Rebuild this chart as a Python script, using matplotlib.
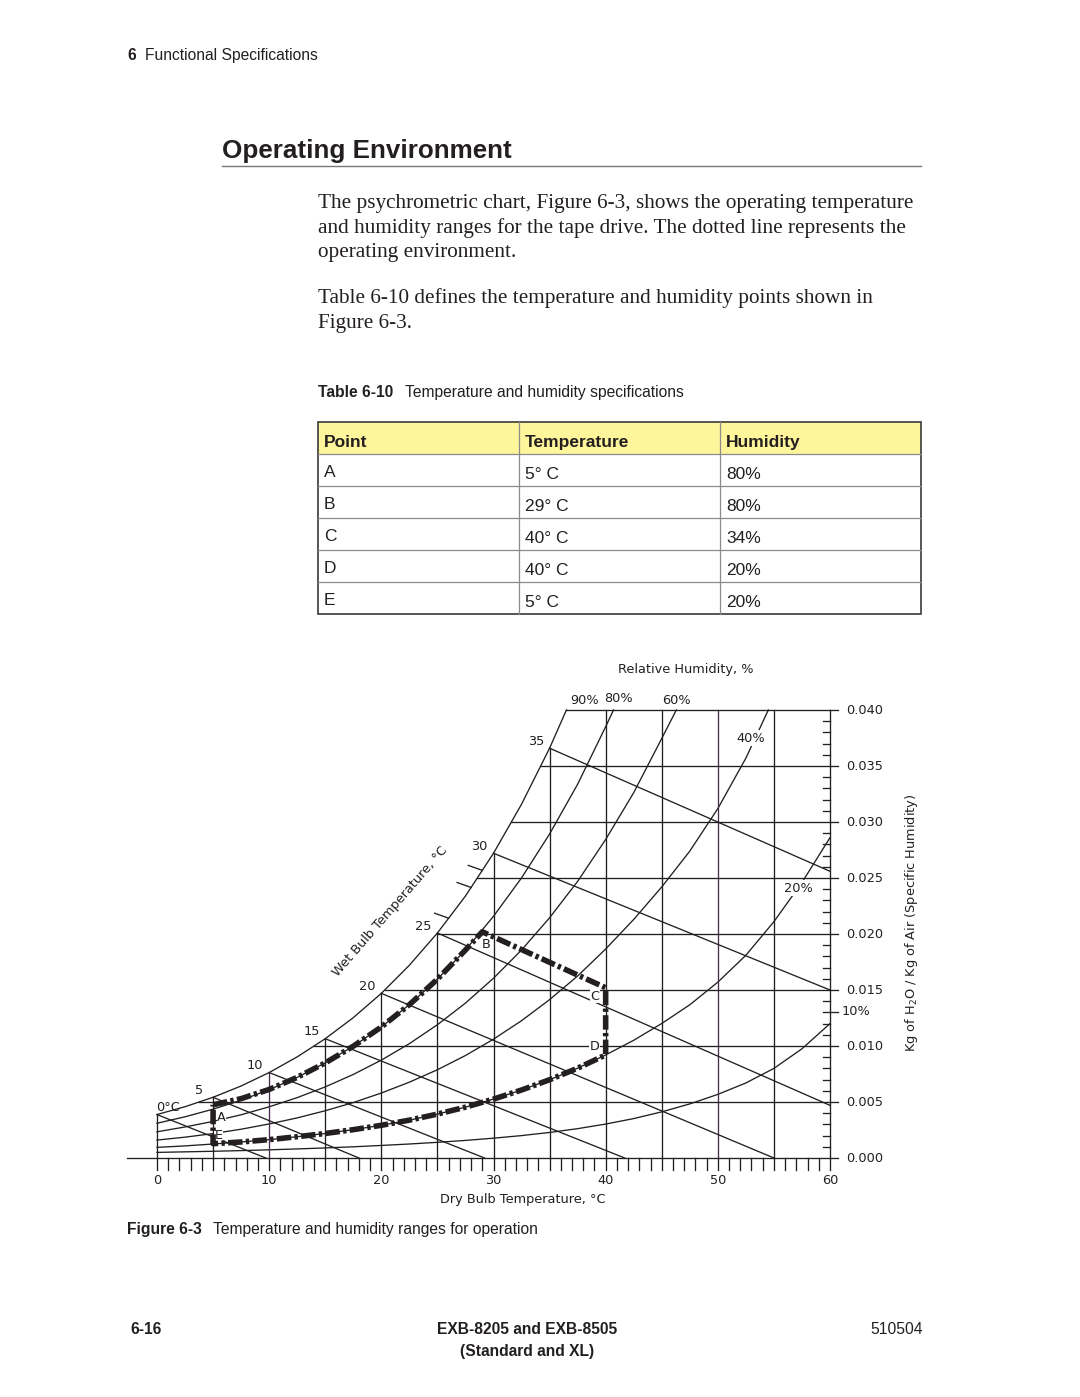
import numpy as np
import matplotlib
matplotlib.use("Agg")
import matplotlib.pyplot as plt
from matplotlib.patches import Rectangle
from matplotlib import font_manager

# Table 6-10 ----
table_header = ["Point", "Temperature", "Humidity"]
table_points = ["A", "B", "C", "D", "E"]
table_temps = ["5° C", "29° C", "40° C", "40° C", "5° C"]
table_humidity = ["80%", "80%", "34%", "20%", "20%"]

# Psychrometric chart ----
# dry bulb (deg C) / specific humidity (kg/kg)
dry_bulb_ticks = [0, 10, 20, 30, 40, 50, 60]
spec_hum_ticks = [0.000, 0.005, 0.010, 0.015, 0.020, 0.025, 0.030, 0.035, 0.040]
grid_T = [0, 5, 10, 15, 20, 25, 30, 35, 40, 45, 50, 55]

sat_T = [0, 2.5, 5, 7.5, 10, 12.5, 15, 17.5, 20, 22.5, 25, 27.5, 30, 32.5, 35, 36.5]
sat_w = [0.00388, 0.00458, 0.00542, 0.00643, 0.00763, 0.00903, 0.01065, 0.01253,
         0.01470, 0.01721, 0.02009, 0.02339, 0.02721, 0.03159, 0.03659, 0.04000]

rh80_T = [0, 2.5, 5, 7.5, 10, 12.5, 15, 17.5, 20, 22.5, 25, 27.5, 30, 32.5, 35, 37.5, 40, 40.7]
rh80_w = [0.00310, 0.00368, 0.00436, 0.00516, 0.00610, 0.00720, 0.00849, 0.00998,
          0.01170, 0.01369, 0.01597, 0.01857, 0.02158, 0.02501, 0.02893, 0.03337,
          0.03851, 0.04000]

rh60_T = [0, 2.5, 5, 7.5, 10, 12.5, 15, 17.5, 20, 22.5, 25, 27.5, 30, 32.5, 35, 37.5,
          40, 42.5, 45, 46.3]
rh60_w = [0.00234, 0.00277, 0.00327, 0.00386, 0.00457, 0.00539, 0.00635, 0.00746,
          0.00874, 0.01021, 0.01190, 0.01383, 0.01605, 0.01857, 0.02145, 0.02470,
          0.02844, 0.03262, 0.03746, 0.04000]

rh40_T = [0, 2.5, 5, 7.5, 10, 12.5, 15, 17.5, 20, 22.5, 25, 27.5, 30, 32.5, 35, 37.5,
          40, 42.5, 45, 47.5, 50, 52.5, 54.5]
rh40_w = [0.00160, 0.00186, 0.00218, 0.00257, 0.00304, 0.00358, 0.00422, 0.00495,
          0.00580, 0.00677, 0.00788, 0.00915, 0.01061, 0.01226, 0.01414, 0.01625,
          0.01866, 0.02130, 0.02420, 0.02740, 0.03120, 0.03570, 0.04000]

rh20_T = [0, 2.5, 5, 7.5, 10, 12.5, 15, 17.5, 20, 22.5, 25, 27.5, 30, 32.5, 35, 37.5,
          40, 42.5, 45, 47.5, 50, 52.5, 55, 57.5, 60]
rh20_w = [0.00095, 0.00108, 0.00125, 0.00143, 0.00164, 0.00190, 0.00219, 0.00253,
          0.00292, 0.00338, 0.00392, 0.00454, 0.00526, 0.00607, 0.00699, 0.00802,
          0.00920, 0.01051, 0.01201, 0.01368, 0.01570, 0.01810, 0.02110, 0.02460,
          0.02860]

rh10_T = [0, 2.5, 5, 7.5, 10, 12.5, 15, 17.5, 20, 22.5, 25, 27.5, 30, 32.5, 35, 37.5,
          40, 42.5, 45, 47.5, 50, 52.5, 55, 57.5, 60]
rh10_w = [0.00050, 0.00055, 0.00060, 0.00066, 0.00073, 0.00081, 0.00090, 0.00100,
          0.00112, 0.00125, 0.00140, 0.00157, 0.00177, 0.00200, 0.00228, 0.00262,
          0.00303, 0.00352, 0.00412, 0.00483, 0.00568, 0.00670, 0.00800, 0.00975,
          0.01200]

# wet bulb lines: start on saturation curve, end on bottom / right axis
wb_T = [0, 5, 10, 15, 20, 25, 30, 35]
wb_labels = ["0°C", "5", "10", "15", "20", "25", "30", "35"]
wb_end_T = [9.7, 18.0, 29.2, 41.7, 55.0, 60, 60, 60]
wb_end_w = [0.0, 0.0, 0.0, 0.0, 0.0, 0.0047, 0.0150, 0.0256]
wb_tick_T = [26, 28, 29]

# operating envelope A-B-C-D-E (dashed)
env_T = [5, 7.5, 10, 12.5, 15, 17.5, 20, 22.5, 25, 27.5, 29, 40, 40, 37.5, 35, 32.5, 30,
         27.5, 25, 22.5, 20, 17.5, 15, 12.5, 10, 7.5, 5, 5]
env_w = [0.00475, 0.00530, 0.00612, 0.00720, 0.00849, 0.00998, 0.01170, 0.01369,
         0.01597, 0.01857, 0.02020, 0.01520, 0.00920, 0.00802, 0.00699, 0.00607,
         0.00526, 0.00454, 0.00392, 0.00338, 0.00292, 0.00253, 0.00219, 0.00190,
         0.00164, 0.00143, 0.00128, 0.00475]
env_labels = ["A", "B", "C", "D", "E"]
env_label_T = [5, 29, 40, 40, 5]
env_label_w = [0.00475, 0.0202, 0.0152, 0.0092, 0.00128]

# Fonts ----
W, H = 1080, 1397
INK = "#231f20"
names = {f.name for f in font_manager.fontManager.ttflist}
if "Liberation Sans Narrow" in names:
    NARROW, NS = "Liberation Sans Narrow", 1.0
else:
    NARROW, NS = "Liberation Sans", 0.82
SERIF = "Liberation Serif"
ARIAL = "Liberation Sans"
CHART = "DejaVu Sans"

fig = plt.figure(figsize=(W / 100, H / 100), dpi=100)
page = fig.add_axes([0, 0, 1, 1])
page.set_xlim(0, W)
page.set_ylim(H, 0)
page.axis("off")


def ptext(x, y, s, size, family=NARROW, weight="normal", ha="left", **kw):
    page.text(x, y, s, fontsize=size, family=family, weight=weight, ha=ha,
              va="baseline", color=INK, **kw)


# page header ----
ptext(127, 60, "6", 13.7 * NS, weight="bold")
ptext(145, 60, "Functional Specifications", 13.7 * NS)
ptext(222, 158, "Operating Environment", 22.8 * NS, weight="bold")
page.plot([222, 921], [166, 166], color="#777777", lw=1.0)

body = [(208, "The psychrometric chart, Figure 6-3, shows the operating temperature"),
        (233, "and humidity ranges for the tape drive. The dotted line represents the"),
        (257, "operating environment."),
        (303, "Table 6-10 defines the temperature and humidity points shown in"),
        (328, "Figure 6-3.")]
for y, line in body:
    ptext(318, y, line, 15.3, family=SERIF)

ptext(318, 397, "Table 6-10", 13.7 * NS, weight="bold")
ptext(405, 397, "Temperature and humidity specifications", 13.7 * NS)

# table ----
col_x = [318, 519, 720, 921]
row_y = [422, 454, 486, 518, 550, 582, 614]
page.add_patch(Rectangle((col_x[0], row_y[0]), col_x[-1] - col_x[0], row_y[1] - row_y[0],
                         facecolor="#fff59a", edgecolor="none"))
for y in row_y[1:-1]:
    page.plot([col_x[0], col_x[-1]], [y, y], color="#8c8c8c", lw=0.9)
for x in col_x[1:-1]:
    page.plot([x, x], [row_y[0], row_y[-1]], color="#8c8c8c", lw=0.9)
page.add_patch(Rectangle((col_x[0], row_y[0]), col_x[-1] - col_x[0], row_y[-1] - row_y[0],
                         facecolor="none", edgecolor="#3a3a3a", lw=1.2))
for j, h in enumerate(table_header):
    ptext(col_x[j] + 6, row_y[1] - 7, h, 12.5, family=ARIAL, weight="bold")
for i in range(len(table_points)):
    yb = row_y[i + 2] - 9
    for j, col in enumerate([table_points, table_temps, table_humidity]):
        ptext(col_x[j] + 6, yb + (2 if j > 0 else 0), col[i], 12.5, family=ARIAL)

# chart ----
x0, x1, y0, y1 = 157, 830, 1158, 710
ax = fig.add_axes([x0 / W, 1 - y0 / H, (x1 - x0) / W, (y0 - y1) / H])
ax.set_xlim(0, 60)
ax.set_ylim(0, 0.040)
ax.axis("off")
pxT = 60 / (x1 - x0)        # deg C per pixel
pxW = 0.040 / (y0 - y1)     # kg/kg per pixel
LW = 0.95
kw = dict(color=INK, lw=LW, clip_on=False, zorder=2)

for T, w in [(sat_T, sat_w), (rh80_T, rh80_w), (rh60_T, rh60_w),
             (rh40_T, rh40_w), (rh20_T, rh20_w), (rh10_T, rh10_w)]:
    ax.plot(T, w, **kw)

for t in grid_T:
    top = np.interp(t, sat_T, sat_w) if t <= sat_T[-1] else 0.040
    c = "#4a2c50" if t in (10, 50) else INK
    ax.plot([t, t], [0, top], color=c, lw=LW, clip_on=False, zorder=2)
for w in spec_hum_ticks[1:]:
    ax.plot([np.interp(w, sat_w, sat_T), 60], [w, w], **kw)

for t, te, we in zip(wb_T, wb_end_T, wb_end_w):
    ax.plot([t, te], [np.interp(t, sat_T, sat_w), we], **kw)
for t in wb_tick_T:
    ws = np.interp(t, sat_T, sat_w)
    ax.plot([t, t - 14 * pxT], [ws, ws + 5 * pxW], **kw)

# axes
ax.plot([-30 * pxT, 60], [0, 0], **kw)
ax.plot([60, 60], [0, 0.040], **kw)
for t in range(0, 61):
    ax.plot([t, t], [0, -12 * pxW], **kw)
for k in range(1, 40):
    w = k / 1000
    if k % 5:
        ax.plot([60 - 7 * pxT, 60], [w, w], **kw)
for k in list(range(0, 41, 5)) + [13]:
    ax.plot([60, 60 + 8 * pxT], [k / 1000, k / 1000], **kw)

ckw = dict(fontsize=9.3, family=CHART, color=INK, textcoords="offset points",
           annotation_clip=False)
for t in dry_bulb_ticks:
    ax.annotate(str(t), (t, 0), xytext=(0, -16.5), ha="center", va="center", **ckw)
for w in spec_hum_ticks:
    ax.annotate(f"{w:.3f}", (60, w), xytext=(11.5, 0), ha="left", va="center", **ckw)
ax.annotate("10%", (60, 0.013), xytext=(8, 0.5), ha="left", va="center", **ckw)

for t, lab in zip(wb_T, wb_labels):
    ws = np.interp(t, sat_T, sat_w)
    dx = 8 if t == 0 else -10
    ax.annotate(lab, (t, ws), xytext=(dx, 5), ha="center", va="center", **ckw)


def ctext(x, y, s, **kw):
    ax.text(x, y, s, transform=page.transData, fontsize=9.3, family=CHART, color=INK,
            ha="center", va="center", clip_on=False, **kw)


ctext(686, 670, "Relative Humidity, %")
ctext(523, 1199, "Dry Bulb Temperature, °C")
ctext(390, 911, "Wet Bulb Temperature, °C", rotation=49, rotation_mode="anchor")
ctext(912, 923, "Kg of H$_2$O / Kg of Air (Specific Humidity)", rotation=90)
for x, y, s in [(585, 701, "90%"), (618, 699, "80%"), (676, 701, "60%")]:
    ctext(x, y, s)
white = dict(facecolor="white", edgecolor="none", pad=1.0)
ctext(751, 738, "40%", bbox=white, zorder=3)
ctext(798, 888, "20%", bbox=white, zorder=3)

env_off = [(6, -9), (3, -9), (-8, -6), (-8, 6), (4, 6)]
for lab, t, w, off in zip(env_labels, env_label_T, env_label_w, env_off):
    ax.annotate(lab, (t, w), xytext=off, ha="center", va="center", zorder=3,
                bbox=dict(facecolor="white", edgecolor="none", pad=0.4), **ckw)

ax.plot(env_T, env_w, color=INK, lw=4.0, linestyle=(0, (2.6, 0.6, 0.6, 0.6)),
        clip_on=False, zorder=4, dash_capstyle="butt", dash_joinstyle="round")

# captions / footer ----
ptext(127, 1234, "Figure 6-3", 13.7 * NS, weight="bold")
ptext(213, 1234, "Temperature and humidity ranges for operation", 13.7 * NS)
ptext(130, 1334, "6-16", 13.7 * NS, weight="bold")
ptext(527, 1334, "EXB-8205 and EXB-8505", 13.7 * NS, weight="bold", ha="center")
ptext(527, 1356, "(Standard and XL)", 13.7 * NS, weight="bold", ha="center")
ptext(923, 1334, "510504", 13.7 * NS, ha="right")

fig.savefig("out.png", dpi=100)
